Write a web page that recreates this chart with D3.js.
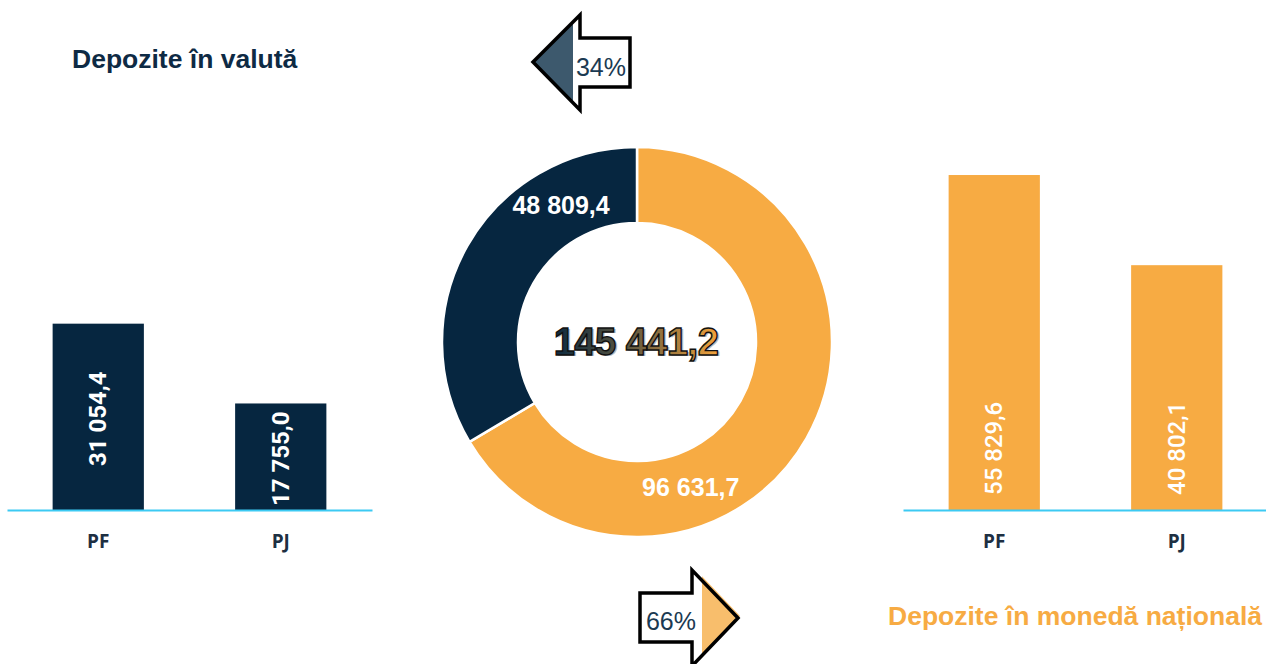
<!DOCTYPE html>
<html>
<head>
<meta charset="utf-8">
<script src="https://cdn.jsdelivr.net/npm/d3@7"></script>
<style>
  body { margin: 0; background: #fff; }
  svg { display: block; }
</style>
</head>
<body>
<div id="chart"></div>
<script>
// data
var categories = ["PF", "PJ"];
var valutaValues = [31054.4, 17755.0];
var monedaValues = [55829.6, 40802.1];
var donutNames = ["Depozite în monedă națională", "Depozite în valută"];
var donutValues = [96631.7, 48809.4];
var totalLabel = "145 441,2";
var shareLabels = ["34%", "66%"];

var navy = "#062640";
var orange = "#f7ab43";
var axisBlue = "#3ccaf3";

var width = 1266, height = 664;
var baseY = 510;

var svg = d3.select("#chart").append("svg")
  .attr("width", width)
  .attr("height", height);

var defs = svg.append("defs");

function fmt(v) {
  // 31054.4 -> "31 054,4"
  var s = v.toFixed(1).split(".");
  return s[0].replace(/\B(?=(\d{3})+(?!\d))/g, " ") + "," + s[1];
}

// shared value scale for both bar charts
var y = d3.scaleLinear().domain([0, 60000]).range([baseY, 150]);

function barChart(values, x0, x1, color, labelMode, labelWeight) {
  var x = d3.scaleBand().domain(categories).range([x0, x1])
    .paddingInner(0.5).paddingOuter(0.25);

  var g = svg.append("g");

  g.selectAll("rect.bar")
    .data(values)
    .enter().append("rect")
    .attr("class", "bar")
    .attr("x", function(d, i) { return x(categories[i]); })
    .attr("y", function(d) { return y(d); })
    .attr("width", x.bandwidth())
    .attr("height", function(d) { return baseY - y(d); })
    .attr("fill", color);

  g.selectAll("text.val")
    .data(values)
    .enter().append("text")
    .attr("class", "val")
    .attr("transform", function(d, i) {
      var cx = x(categories[i]) + x.bandwidth() / 2 + 8;
      var ty = labelMode == "middle" ? (y(d) + baseY) / 2 + 2 : baseY - 15;
      return "translate(" + cx + "," + ty + ") rotate(-90)";
    })
    .attr("text-anchor", labelMode == "middle" ? "middle" : "start")
    .attr("fill", "#fff")
    .style("font-family", "Roboto, sans-serif")
    .style("font-size", "24px")
    .style("font-weight", labelWeight)
    .text(function(d) { return fmt(d); });

  var axis = g.append("g")
    .attr("transform", "translate(0," + baseY + ")")
    .call(d3.axisBottom(x).tickSize(0).tickSizeOuter(0).tickPadding(25));
  axis.select(".domain").attr("stroke", axisBlue).attr("stroke-width", 2);
  axis.selectAll("text")
    .attr("fill", "#1d2f42")
    .style("font-family", "'Open Sans', sans-serif")
    .style("font-size", "19px")
    .style("font-weight", "bold");
}

barChart(valutaValues, 7, 372, navy, "middle", "bold");
barChart(monedaValues, 903, 1268, orange, "bottom", "500");

// titles
svg.append("text")
  .attr("x", 72).attr("y", 68)
  .attr("fill", "#0e2a44")
  .style("font-family", "'Liberation Sans', Arial, sans-serif")
  .style("font-size", "26.5px")
  .style("font-weight", "bold")
  .text("Depozite în valută");

svg.append("text")
  .attr("x", 1262).attr("y", 625)
  .attr("text-anchor", "end")
  .attr("fill", orange)
  .style("font-family", "'Liberation Sans', Arial, sans-serif")
  .style("font-size", "26.5px")
  .style("font-weight", "bold")
  .text("Depozite în monedă națională");

// donut
var cx = 637, cy = 342;
var pie = d3.pie().sort(null).value(function(d) { return d; });
var arc = d3.arc().innerRadius(119).outerRadius(195);
var arcs = pie(donutValues);
var donutColors = [orange, navy];
// where each slice label sits (angle from slice start, radians)
var labelAngle = [2.79, 1.60];

var dg = svg.append("g").attr("transform", "translate(" + cx + "," + cy + ")");

dg.selectAll("path")
  .data(arcs)
  .enter().append("path")
  .attr("d", arc)
  .attr("fill", function(d, i) { return donutColors[i]; })
  .attr("stroke", "#fff")
  .attr("stroke-width", 2.5);

dg.selectAll("text.slice")
  .data(arcs)
  .enter().append("text")
  .attr("class", "slice")
  .attr("transform", function(d, i) {
    var a = d.startAngle + labelAngle[i];
    var r = 156;
    return "translate(" + (r * Math.sin(a)) + "," + (-r * Math.cos(a) + 8) + ")";
  })
  .attr("text-anchor", "middle")
  .attr("fill", "#fff")
  .style("font-family", "'Liberation Sans', Arial, sans-serif")
  .style("font-size", "25px")
  .style("font-weight", "bold")
  .text(function(d) { return fmt(d.value); });

// center total with gradient fill
var grad = defs.append("linearGradient").attr("id", "totGrad")
  .attr("x1", "0%").attr("x2", "100%").attr("y1", "0%").attr("y2", "0%");
grad.append("stop").attr("offset", "0%").attr("stop-color", "#0c2a40");
grad.append("stop").attr("offset", "45%").attr("stop-color", "#5c5640");
grad.append("stop").attr("offset", "100%").attr("stop-color", "#f2a33c");

dg.append("text")
  .attr("x", 1).attr("y", 14)
  .attr("text-anchor", "middle")
  .attr("fill", "#bbb")
  .style("font-family", "'Liberation Sans', Arial, sans-serif")
  .style("font-size", "38px")
  .style("font-weight", "bold")
  .style("letter-spacing", "-0.5px")
  .text(totalLabel);
dg.append("text")
  .attr("x", -1).attr("y", 13)
  .attr("text-anchor", "middle")
  .attr("fill", "url(#totGrad)")
  .attr("stroke", "#111")
  .attr("stroke-width", 1.4)
  .style("font-family", "'Liberation Sans', Arial, sans-serif")
  .style("font-size", "38px")
  .style("font-weight", "bold")
  .style("letter-spacing", "-0.5px")
  .text(totalLabel);

// share arrows
var leftArrow = [[533, 62], [580, 15], [580, 38], [630, 38], [630, 87], [580, 87], [580, 110]];
var rightArrow = [[640, 593], [692, 593], [692, 570], [738, 618], [692, 666], [692, 642], [640, 642]];
var line = d3.line().curve(d3.curveLinearClosed);

defs.append("clipPath").attr("id", "clipL")
  .append("rect").attr("x", 520).attr("y", 0).attr("width", 53).attr("height", 130);
defs.append("clipPath").attr("id", "clipR")
  .append("rect").attr("x", 700).attr("y", 560).attr("width", 60).attr("height", 110);

svg.append("path").attr("d", line(leftArrow)).attr("fill", "#fff");
svg.append("path").attr("d", line(leftArrow)).attr("fill", "#3d596d")
  .attr("clip-path", "url(#clipL)");
svg.append("path").attr("d", line(leftArrow))
  .attr("fill", "none").attr("stroke", "#000").attr("stroke-width", 3.5)
  .attr("stroke-linejoin", "miter");

svg.append("path").attr("d", line(rightArrow)).attr("fill", "#fff");
svg.append("path").attr("d", line(rightArrow)).attr("fill", "#f8be6c")
  .attr("transform", "translate(2,-2)")
  .attr("clip-path", "url(#clipR)");
svg.append("path").attr("d", line(rightArrow))
  .attr("fill", "none").attr("stroke", "#000").attr("stroke-width", 3.5)
  .attr("stroke-linejoin", "miter");

svg.append("text")
  .attr("x", 601).attr("y", 76)
  .attr("text-anchor", "middle")
  .attr("fill", "#1b3a52")
  .style("font-family", "'Liberation Sans', Arial, sans-serif")
  .style("font-size", "25px")
  .text(shareLabels[0]);

svg.append("text")
  .attr("x", 671).attr("y", 630)
  .attr("text-anchor", "middle")
  .attr("fill", "#1b3a52")
  .style("font-family", "'Liberation Sans', Arial, sans-serif")
  .style("font-size", "25px")
  .text(shareLabels[1]);
</script>
</body>
</html>
